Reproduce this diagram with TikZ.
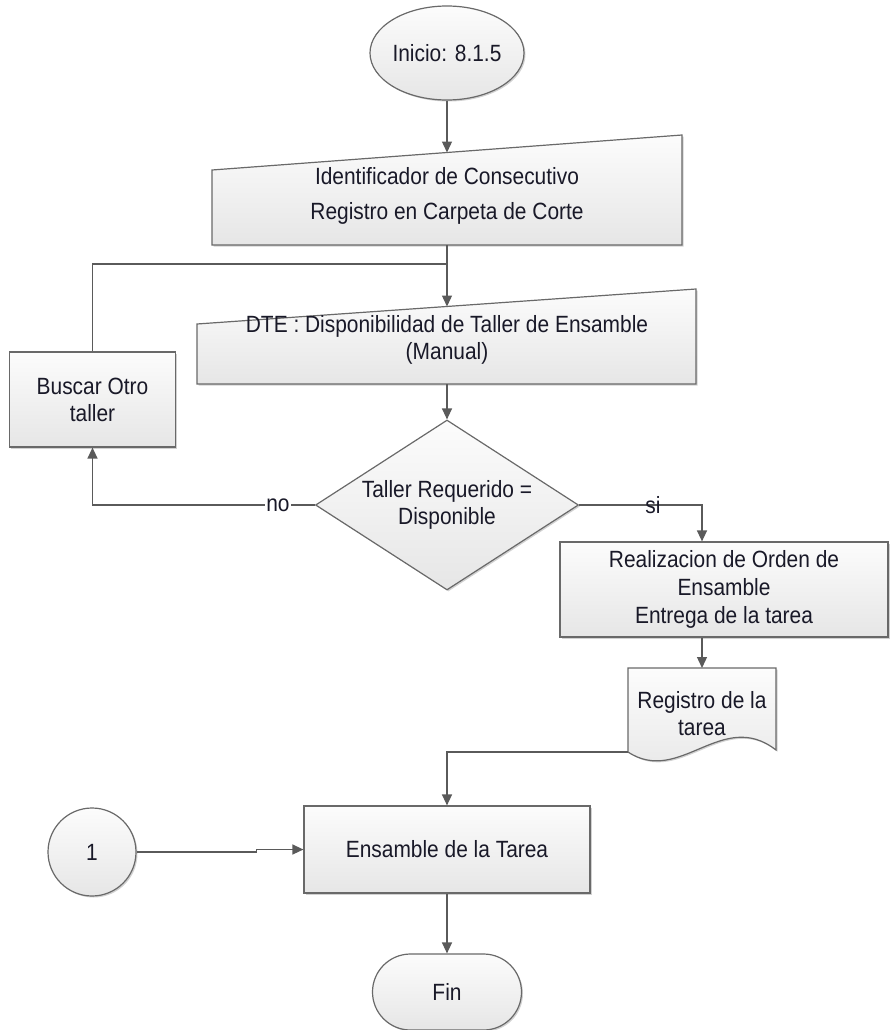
\documentclass[tikz,border=0pt]{standalone}
\usepackage{fontspec}
\setmainfont{Liberation Sans}[FakeStretch=0.89]
\usetikzlibrary{arrows.meta,shapes.geometric,shadows}

\definecolor{linegray}{RGB}{90,90,90}
\definecolor{edgegray}{RGB}{105,105,105}
\definecolor{filltop}{RGB}{252,252,252}
\definecolor{fillbot}{RGB}{230,230,230}
\definecolor{ink}{RGB}{25,25,40}

\begin{document}
\begin{tikzpicture}[x=1pt,y=-1pt,
  conn/.style={draw=linegray,line width=1.3pt},
  flow/.style={conn,-{Triangle[length=11pt,width=10pt]}},
  fcshape/.style={draw=edgegray,line width=1.2pt,top color=filltop,bottom color=fillbot,
    drop shadow={shadow xshift=1.5pt,shadow yshift=-1.5pt,fill=black,opacity=0.18}},
  txt/.style={text=ink,align=center,font={\fontsize{23.5}{27}\selectfont},inner sep=0pt},
  procbox/.style={fcshape,txt,rectangle},
  edgelabel/.style={text=ink,font={\fontsize{23.5}{27}\selectfont},inner sep=1pt}
]
\useasboundingbox (0,0) rectangle (889,1030);

% start terminal
\node[fcshape,txt,ellipse,minimum width=148pt,minimum height=94pt] (start) at (447,53) {Inicio: 8.1.5};

% manual input: identification
\path[fcshape] (212,170) -- (682,135) -- (682,245) -- (212,245) -- cycle;
\coordinate (m1top) at (447,152.5);
\coordinate (m1bot) at (447,245);
\node[txt,font={\fontsize{23.5}{35}\selectfont}] (m1txt) at (447,195.5)
  {Identificador de Consecutivo\\Registro en Carpeta de Corte};

% manual input: workshop availability
\path[fcshape] (197,324) -- (696,289) -- (696,384) -- (197,384) -- cycle;
\coordinate (m2top) at (447,306.5);
\coordinate (m2bot) at (447,384);
\node[txt] (m2txt) at (447,339.5)
  {DTE : Disponibilidad de Taller de Ensamble\\(Manual)};

% search another workshop
\node[procbox,minimum width=166pt,minimum height=95pt] (busca) at (92.5,399.5)
  {Buscar Otro\\taller};

% decision
\node[fcshape,txt,diamond,aspect=1.55,minimum width=263pt,minimum height=170pt] (dec) at (447,505)
  {Taller Requerido =\\Disponible};

% assembly order
\node[procbox,minimum width=328pt,minimum height=95pt] (real) at (724,589.5)
  {Realizacion de Orden de\\[1pt]Ensamble\\[1pt]Entrega de la tarea};

% document: task record
\path[fcshape] (628,668) -- (776,668) -- (776,750)
  .. controls (722,708) and (680,786) .. (628,752) -- cycle;
\coordinate (doctop) at (702,668);
\coordinate (docout) at (628,752);
\node[txt] (doctxt) at (702,713.5) {Registro de la\\tarea};

% assembly
\node[procbox,minimum width=286pt,minimum height=87pt] (ens) at (447,849.5)
  {Ensamble de la Tarea};

% connector 1
\node[fcshape,txt,circle,minimum size=88pt] (c1) at (92,852) {1};

% end terminal
\node[fcshape,txt,rectangle,rounded corners=38pt,minimum width=149pt,minimum height=76pt] (fin) at (447,992) {Fin};

% connectors
\coordinate (split) at (447,264);
\draw[flow] (start.south) -- (m1top);
\draw[flow] (m1bot) -- (m2top);
\draw[conn] (busca.north) |- (split);
\draw[flow] (m2bot) -- (dec.north);
\draw[flow] (dec.west) -| (busca.south) node[pos=0.083,edgelabel,fill=white] {no};
\draw[flow] (dec.east) -| ([xshift=-22pt]real.north) node[pos=0.3,edgelabel] {si};
\draw[flow] ([xshift=-22pt]real.south) -- (doctop);
\draw[flow] (docout) -| (ens.north);
\draw[flow] (c1.east) -- ++(120,0) |- (ens.west);
\draw[flow] (ens.south) -- (fin.north);
\end{tikzpicture}
\end{document}
